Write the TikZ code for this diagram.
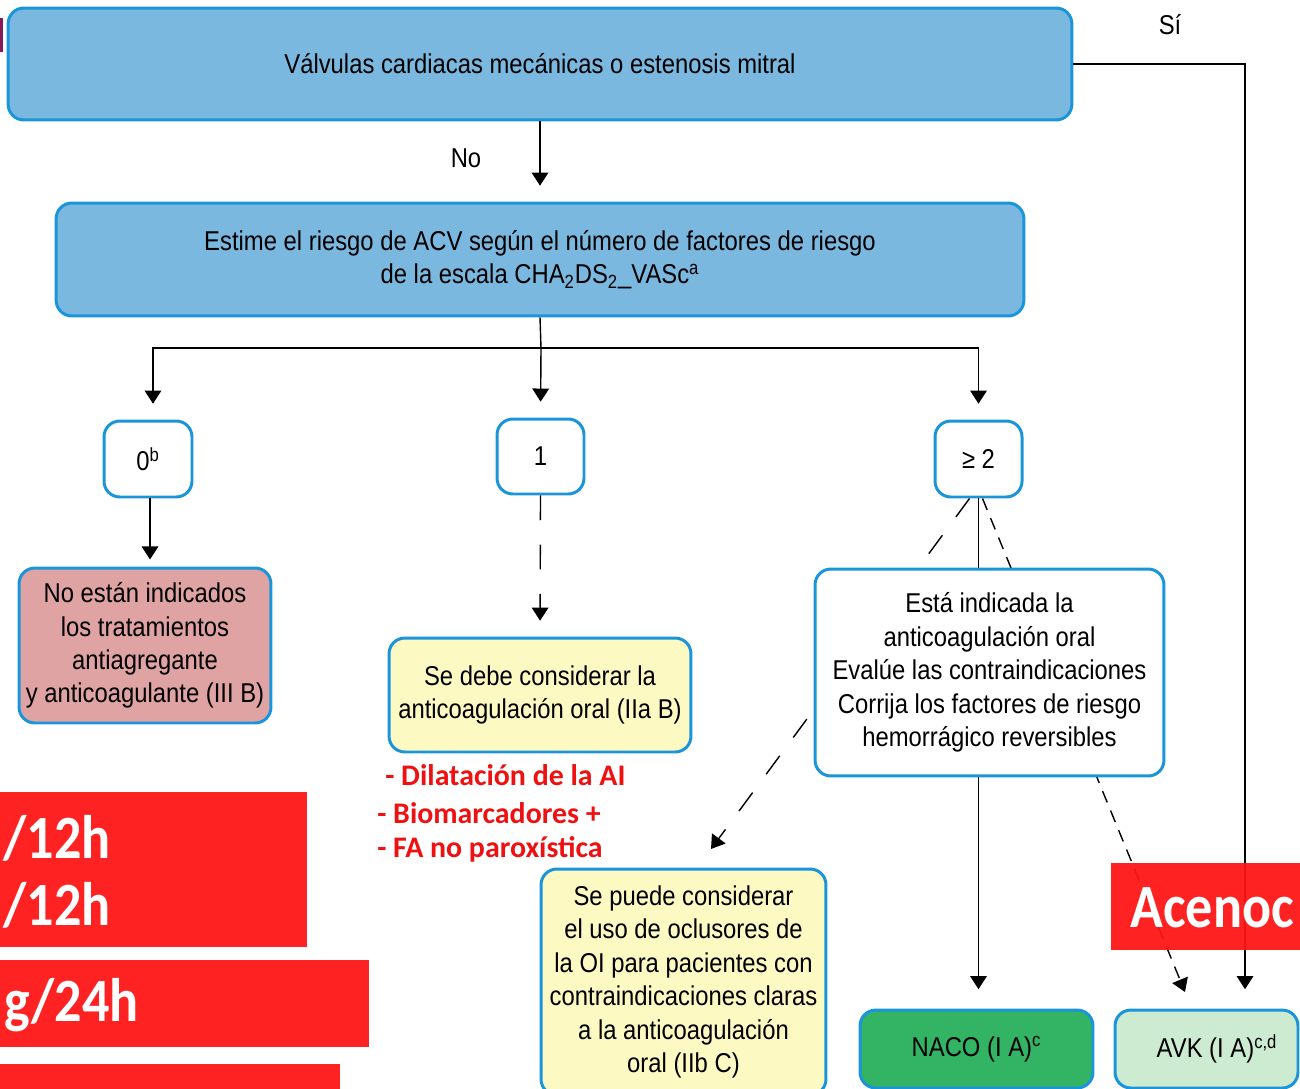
\documentclass[tikz,border=0pt]{standalone}
\usepackage{fontspec}
\setmainfont[FakeStretch=0.875]{Liberation Sans}
\newfontfamily\notefont{Carlito}
\newfontfamily\bigfont[FakeStretch=0.88]{Carlito}
\usepackage{tikz}
\usetikzlibrary{calc,arrows.meta,positioning}
\definecolor{fc-line}{HTML}{1B95DA}
\definecolor{fc-head}{HTML}{7AB8E0}
\definecolor{fc-rose}{HTML}{E0A3A3}
\definecolor{fc-cream}{HTML}{FCF9C2}
\definecolor{fc-green}{HTML}{33B464}
\definecolor{fc-mint}{HTML}{CDEBD1}
\definecolor{fc-red}{HTML}{FF1414}
\definecolor{fc-note}{HTML}{EE1111}
\definecolor{fc-plum}{HTML}{8A1A55}

\begin{document}
\begin{tikzpicture}[x=0.02cm, y=-0.02cm, font=\fontsize{15.5}{19}\selectfont,
    box/.style={draw=fc-line, line width=1.7pt, rounded corners=9pt, align=center, inner sep=2pt},
    link/.style={line width=0.8pt},
    arr/.style={link, -{Triangle[length=7.5pt,width=9.5pt]}},
    note/.style={anchor=west, text=fc-note, inner sep=0pt, font=\notefont\bfseries\fontsize{17}{20}\selectfont},
    patch/.style={fc-red, opacity=0.94},
    big/.style={text=white, inner sep=0pt, font=\bigfont\bfseries\fontsize{35}{40}\selectfont}]
    \useasboundingbox (0,0) rectangle (1300,1088);
    \clip (0,0) rectangle (1300,1088);
    \fill[fc-plum] (0,18) rectangle (3,52);

    % decisions
    \node[box, fill=fc-head, minimum width=21.28cm, minimum height=2.24cm] (valv) at (540,64)
        {Válvulas cardiacas mecánicas o estenosis mitral};
    \node[box, fill=fc-head, minimum width=19.36cm, minimum height=2.26cm] (risk) at (540,259.5)
        {Estime el riesgo de ACV según el número de factores de riesgo\\
         de la escala CHA\textsubscript{2}DS\textsubscript{2}\_VASc\textsuperscript{a}};
    \node[box, fill=white, minimum width=1.76cm, minimum height=1.52cm] (zero) at (148,459) {0\textsuperscript{b}};
    \node[box, fill=white, minimum width=1.74cm, minimum height=1.5cm] (one) at (540.5,456.5) {1};
    \node[box, fill=white, minimum width=1.74cm, minimum height=1.52cm] (many) at (978.5,459) {≥ 2};

    % dashed options under the Está box
    \coordinate (oiin) at (711,849);
    \coordinate (avkin) at (1185,992);
    \draw[arr, dash pattern=on 13pt off 13pt] ($(many.south)+(-9,0)$) -- (oiin);
    \draw[arr, dash pattern=on 7pt off 5pt] ($(many.south)+(4,0)$) -- (avkin);

    % outcomes
    \node[box, fill=fc-rose, minimum width=5.04cm, minimum height=3.1cm] (none) at (145,645.5)
        {No están indicados\\los tratamientos\\antiagregante\\y anticoagulante (III B)};
    \node[box, fill=fc-cream, minimum width=6.04cm, minimum height=2.28cm] (cons) at (540,695)
        {Se debe considerar la\\anticoagulación oral (IIa B)};
    \node[box, fill=white, minimum width=6.98cm, minimum height=4.14cm] (oac) at (989.5,672.5)
        {Está indicada la\\anticoagulación oral\\Evalúe las contraindicaciones\\Corrija los factores de riesgo\\hemorrágico reversibles};
    \node[box, fill=fc-cream, minimum width=5.7cm, minimum height=4.52cm] (occl) at (683.5,982)
        {Se puede considerar\\el uso de oclusores de\\la OI para pacientes con\\contraindicaciones claras\\a la anticoagulación\\oral (IIb C)};
    \node[box, fill=fc-green, minimum width=4.66cm, minimum height=1.56cm] (naco) at (976.5,1049)
        {NACO (I A)\textsuperscript{c}};
    \node[box, fill=fc-mint, minimum width=3.66cm, minimum height=1.56cm] (avk) at (1206.5,1049)
        {\hspace*{12pt}AVK (I A)\textsuperscript{c,d}};

    % connectors
    \node (si) at (1170,25) {Sí};
    \node (no) at (466,158) {No};
    \draw[arr, shorten >=11pt] (valv.east) -| (avk.north -| 1245,0);
    \draw[arr, shorten >=9pt] (valv.south) -- (risk.north);
    \coordinate (split) at (541,348);
    \draw[link] (risk.south) -- (split);
    \draw[arr, shorten >=9pt] (split) -| ($(zero.north)+(5,0)$);
    \draw[arr, shorten >=9pt] (split) -- (one.north);
    \draw[arr, shorten >=9pt] (split) -| (many.north);
    \draw[arr, shorten >=4pt] ($(zero.south)+(2,0)$) -- ($(none.north)+(5,0)$);
    \draw[arr, dash pattern=on 14pt off 14pt, shorten >=9pt] (one.south) -- (cons.north);
    \draw[link] (many.south) -- (many.south |- oac.north);
    \draw[arr, shorten >=11pt] (oac.south -| many.south) -- (naco.north -| many.south);

    % risk modifiers
    \node[note] (dil) at (385,775) {- Dilatación de la AI};
    \node[note] (bio) at (377,813) {- Biomarcadores +};
    \node[note] (fa) at (377,849) {- FA no paroxística};

    % red overlays
    \fill[patch] (0,792) rectangle (307,947);
    \node[big, anchor=east] (bid1) at (111,838) {/12h};
    \node[big, anchor=east] (bid2) at (111,905) {/12h};
    \fill[patch] (0,960) rectangle (369,1047);
    \node[big, anchor=east] (daily) at (139,1005) {g/24h};
    \fill[patch] (0,1064) rectangle (340,1095);
    \fill[patch] (1111,863) rectangle (1310,950);
    \node[big, anchor=west] (aceno) at (1130,908) {Acenoc};
\end{tikzpicture}
\end{document}
